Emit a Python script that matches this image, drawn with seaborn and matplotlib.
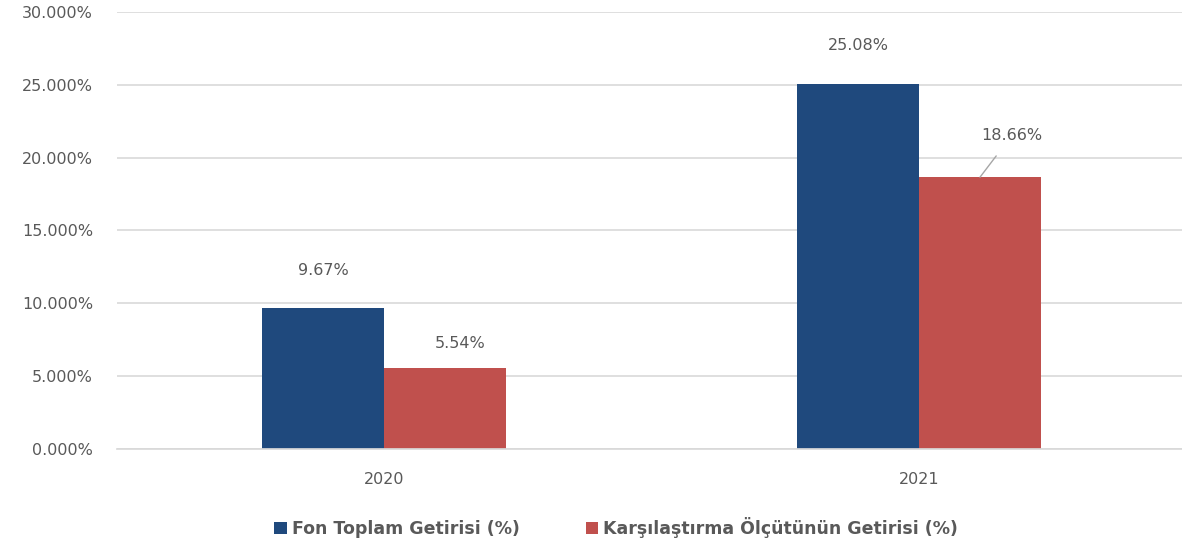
import matplotlib
matplotlib.use("Agg")
import matplotlib.pyplot as plt
import seaborn as sns
import pandas as pd
from matplotlib.ticker import FuncFormatter

years = ["2020", "2021"]
series_names = ["Fon Toplam Getirisi (%)", "Karşılaştırma Ölçütünün Getirisi (%)"]
fon_values = [9.67, 25.08]
bench_values = [5.54, 18.66]
colors = ["#1F497D", "#C0504D"]

df = pd.DataFrame({
    "Yıl": years * 2,
    "Seri": [series_names[0]] * 2 + [series_names[1]] * 2,
    "Değer": fon_values + bench_values,
})

sns.set_theme(style="white")
plt.rcParams["font.family"] = ["DejaVu Sans"]

fig = plt.figure(figsize=(11.82, 5.54), dpi=100)
ax = fig.add_axes([116.5 / 1182, 0.19, 1070 / 1182, 0.788])

sns.barplot(data=df, x="Yıl", y="Değer", hue="Seri", palette=colors,
            width=0.456, saturation=1, linewidth=0, ax=ax, legend=True)

ax.set_ylim(0, 30)
ax.set_yticks([0, 5, 10, 15, 20, 25, 30])
ax.yaxis.set_major_formatter(FuncFormatter(lambda v, p: f"{v:.3f}%"))
ax.grid(axis="y", color="#D9D9D9", linewidth=1.2)
ax.set_axisbelow(True)
for s in ["top", "right", "left"]:
    ax.spines[s].set_visible(False)
ax.spines["bottom"].set_color("#D9D9D9")
ax.tick_params(axis="both", colors="#595959", labelsize=11.5, length=0)
ax.tick_params(axis="y", pad=17)
ax.tick_params(axis="x", pad=17)
ax.set_xlabel("")
ax.set_ylabel("")

# data labels
grey = "#595959"
offsets = {(0, 0): (0, 38), (0, 1): (0, 38), (1, 0): (15, 25), (1, 1): (32, 42)}
for si, cont in enumerate(ax.containers):
    vals = [fon_values, bench_values][si]
    for ci, bar in enumerate(cont):
        cx = bar.get_x() + bar.get_width() / 2
        top = bar.get_height()
        dx, dy = offsets[(si, ci)]
        kw = {}
        if (si, ci) == (1, 1):
            kw["arrowprops"] = dict(arrowstyle="-", color="#A6A6A6", lw=1,
                                    shrinkA=9, shrinkB=0)
        ax.annotate(f"{vals[ci]:.2f}%", xy=(cx, top), xytext=(dx, dy),
                    textcoords="offset pixels", ha="center", va="center",
                    color=grey, fontsize=11.5, **kw)

leg = ax.legend(loc="upper center", bbox_to_anchor=(0.467, -0.12), ncol=2,
                frameon=False, handlelength=0.7, handleheight=0.7,
                handletextpad=0.3, columnspacing=3.8,
                prop={"family": "DejaVu Sans", "weight": "bold", "size": 12.5})
for t in leg.get_texts():
    t.set_color(grey)

fig.savefig("out.png", dpi=100)
